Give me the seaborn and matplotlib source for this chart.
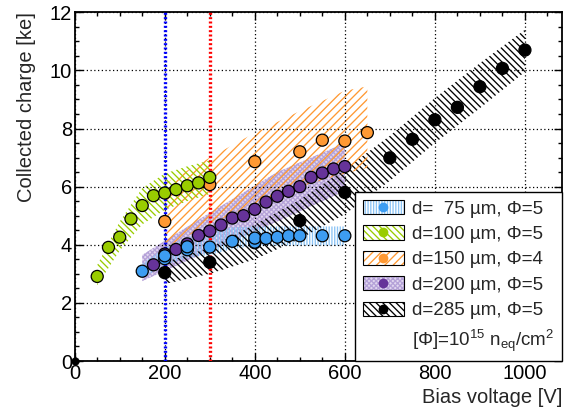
import numpy as np
import pandas as pd
import matplotlib
matplotlib.use("Agg")
import matplotlib.pyplot as plt
import seaborn as sns
from matplotlib.patches import Patch
from matplotlib.lines import Line2D
from matplotlib.ticker import MultipleLocator

# ---------------- data ----------------
labels = ["d=  75 \u00b5m, \u03a6=5", "d=100 \u00b5m, \u03a6=5", "d=150 \u00b5m, \u03a6=4",
          "d=200 \u00b5m, \u03a6=5", "d=285 \u00b5m, \u03a6=5"]

v75 = [150, 200, 200, 250, 250, 300, 350, 400, 400, 425, 450, 475, 500, 550, 600]
q75 = [3.09, 3.52, 3.62, 3.83, 3.93, 3.92, 4.12, 4.09, 4.23, 4.22, 4.26, 4.31, 4.31, 4.31, 4.31]

v100 = [50, 75, 100, 125, 150, 175, 200, 225, 250, 275, 300]
q100 = [2.91, 3.91, 4.26, 4.89, 5.35, 5.69, 5.78, 5.90, 6.03, 6.13, 6.32]

v150 = [200, 300, 400, 500, 550, 600, 650]
q150 = [4.80, 6.07, 6.86, 7.20, 7.60, 7.57, 7.86]

v200 = [175, 200, 225, 250, 275, 300, 325, 350, 375, 400, 425, 450, 475, 500, 525, 550, 575, 600]
q200 = [3.31, 3.68, 3.84, 4.03, 4.32, 4.47, 4.68, 4.92, 5.00, 5.22, 5.47, 5.67, 5.84, 6.00, 6.32, 6.47, 6.61, 6.69]

v285 = [200, 300, 400, 500, 600, 700, 750, 800, 850, 900, 950, 1000]
q285 = [3.04, 3.40, 4.07, 4.83, 5.80, 6.99, 7.63, 8.30, 8.73, 9.44, 10.07, 10.70]

origin_v = [0]
origin_q = [0]

# uncertainty bands
bv75 = [150, 200, 250, 300, 350, 400, 500, 600]
blo75 = [2.85, 3.30, 3.55, 3.65, 3.85, 3.97, 3.97, 3.97]
bhi75 = [3.35, 3.90, 4.25, 4.45, 4.60, 4.63, 4.63, 4.63]

bv100 = [50, 100, 150, 200, 250, 300]
blo100 = [2.60, 3.80, 4.70, 5.20, 5.50, 5.75]
bhi100 = [3.30, 4.80, 5.95, 6.45, 6.70, 6.90]

bv150 = [200, 300, 400, 500, 600, 650]
blo150 = [3.90, 4.70, 5.40, 6.00, 6.45, 6.65]
bhi150 = [6.10, 7.00, 7.85, 8.60, 9.30, 9.45]

bv200 = [150, 300, 450, 600]
blo200 = [2.75, 3.80, 4.80, 5.85]
bhi200 = [3.65, 5.10, 6.50, 7.50]

bv285 = [200, 300, 400, 500, 600, 700, 800, 900, 1000]
blo285 = [2.65, 3.00, 3.50, 4.20, 5.05, 6.20, 7.50, 8.70, 9.95]
bhi285 = [3.40, 3.90, 4.70, 5.55, 6.60, 7.75, 9.05, 10.25, 11.40]

vlines_v = [200, 300]
vlines_colors = ["#0000ff", "#ff0000"]

colors = ["#3d9df2", "#99cc00", "#ff9933", "#663399", "#000000"]
band_colors = ["#8cc4f5", "#99cc00", "#ff9933", "#b5a2d8", "#000000"]
hatches = ["||||||", "\\" * 5, "/" * 4, "xxxxxxx", "\\" * 5]

# ---------------- style ----------------
sns.set_theme(style="ticks")
plt.rcParams["font.family"] = ["Liberation Sans", "DejaVu Sans"]
plt.rcParams["mathtext.fontset"] = "custom"
plt.rcParams["mathtext.rm"] = "Liberation Sans"
plt.rcParams["mathtext.it"] = "Liberation Sans"
plt.rcParams["hatch.linewidth"] = 0.95

fig = plt.figure(figsize=(5.74, 4.11), dpi=100)
ax = fig.add_axes([74.7 / 574, 1 - 361 / 411, (562.3 - 74.7) / 574, (361 - 12.3) / 411])

bands = [(bv75, blo75, bhi75), (bv100, blo100, bhi100), (bv150, blo150, bhi150),
         (bv200, blo200, bhi200), (bv285, blo285, bhi285)]
draw_order = [3, 0, 4, 2, 1]
purple_face = "#e2d8f0"
for i in draw_order:
    bv, blo, bhi = bands[i]
    ax.fill_between(bv, blo, bhi, facecolor=purple_face if i == 3 else "none",
                    edgecolor=band_colors[i], hatch=hatches[i], linewidth=0, zorder=1)

for v, c in zip(vlines_v, vlines_colors):
    ax.axvline(v, color=c, lw=2.4, ls=(0, (0.6, 0.7)), zorder=3)

series = [(v285, q285), (v150, q150), (v100, q100), (v200, q200), (v75, q75)]
series_idx = [4, 2, 1, 3, 0]
frames = []
for (v, q), i in zip(series, series_idx):
    frames.append(pd.DataFrame({"V": v, "Q": q, "label": labels[i]}))
df = pd.concat(frames, ignore_index=True)
palette = {labels[i]: colors[i] for i in range(5)}
sns.scatterplot(data=df, x="V", y="Q", hue="label", palette=palette, s=75,
                edgecolor="black", linewidth=0.9, legend=False, ax=ax, zorder=5)
sns.scatterplot(x=origin_v, y=origin_q, color="black", s=30, edgecolor="black",
                legend=False, ax=ax, zorder=6, clip_on=False)

ax.set_xlim(0, 1083)
ax.set_ylim(0, 12)
ax.xaxis.set_major_locator(MultipleLocator(200))
ax.xaxis.set_minor_locator(MultipleLocator(50))
ax.yaxis.set_major_locator(MultipleLocator(2))
ax.yaxis.set_minor_locator(MultipleLocator(0.5))
ax.tick_params(which="both", direction="in", top=True, right=True, labelsize=14.5,
               colors="black", width=1.0, pad=2)
ax.tick_params(which="major", length=6)
ax.tick_params(which="minor", length=3)
ax.grid(True, which="major", color="black", ls=(0, (1, 2)), lw=0.9)
ax.set_axisbelow(False)
for s in ax.spines.values():
    s.set_linewidth(1.3)
    s.set_color("black")

ax.set_xlabel("Bias voltage [V]", loc="right", fontsize=14.5, labelpad=4)
ax.set_ylabel("Collected charge [ke]", loc="top", fontsize=14.5, labelpad=10)

# legend
handles = []
for i in range(5):
    hp = Patch(facecolor=purple_face if i == 3 else "white", edgecolor=band_colors[i],
               hatch=hatches[i], linewidth=0)
    border = Patch(facecolor="none", edgecolor="black", linewidth=0.8)
    mk = Line2D([], [], marker="o", ls="none", color=colors[i], markersize=7,
                markeredgewidth=0)
    handles.append((hp, border, mk))
handles.append(Line2D([], [], ls="none"))
leg_labels = labels + ["[\u03a6]=10$^{15}$ n$_{\\mathrm{eq}}$/cm$^{2}$"]
leg = ax.legend(handles, leg_labels, loc="lower right", bbox_to_anchor=(1, 0),
                borderaxespad=0, fontsize=13.5, frameon=True, fancybox=False,
                edgecolor="black", framealpha=1, handlelength=2.2, handleheight=0.78,
                labelspacing=0.42, borderpad=0.4, handletextpad=0.45)
leg.get_frame().set_linewidth(1.0)
leg.set_zorder(10)

fig.savefig("out.png", dpi=100)
